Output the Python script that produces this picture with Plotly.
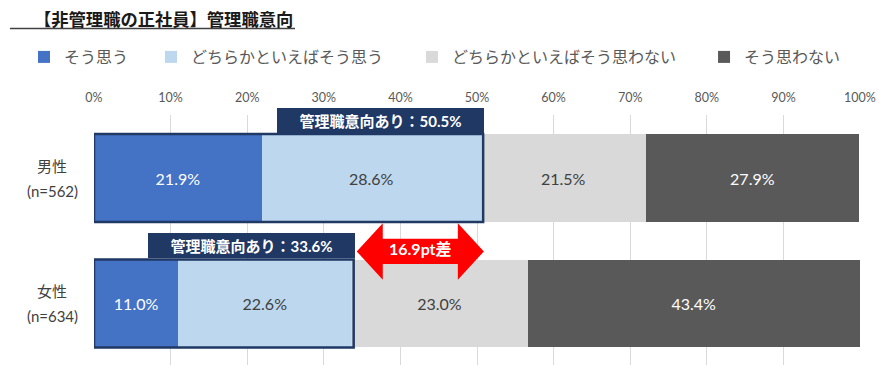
import plotly.graph_objects as go

# ---------------- data ----------------
categories = ["男性", "女性"]
sample_sizes = [562, 634]
series_names = ["そう思う", "どちらかといえばそう思う", "どちらかといえばそう思わない", "そう思わない"]
agree = [21.9, 11.0]
somewhat_agree = [28.6, 22.6]
somewhat_disagree = [21.5, 23.0]
disagree = [27.9, 43.4]
x_tick_values = [0, 10, 20, 30, 40, 50, 60, 70, 80, 90, 100]
x_tick_labels = [f"{v}%" for v in x_tick_values]
title_text = "【非管理職の正社員】管理職意向"
intent_label = "管理職意向あり："

# ---------------- styles ----------------
colors = ["#4472C4", "#BDD7EE", "#D9D9D9", "#595959"]
text_colors = ["#FFFFFF", "#404040", "#404040", "#FFFFFF"]
NAVY = "#1F3864"
RED = "#FF0000"
JP = "Noto Sans CJK JP"
NUM = "Lato, Noto Sans CJK JP"
BAR_W = 0.7

series = [agree, somewhat_agree, somewhat_disagree, disagree]
ypos = list(range(len(categories)))

fig = go.Figure()
legend_ids = ["legend", "legend2", "legend3", "legend4"]
for name, vals, c, tc, lg in zip(series_names, series, colors, text_colors, legend_ids):
    fig.add_trace(go.Bar(
        y=ypos, x=vals, name=name, orientation="h",
        marker=dict(color=c, line=dict(width=0)),
        width=BAR_W,
        text=[f"{v:.1f}%" for v in vals],
        textposition="inside", insidetextanchor="middle", textangle=0,
        textfont=dict(color=tc, size=16, family=NUM),
        legend=lg, hoverinfo="skip",
    ))

blue_sum = [round(a + b, 1) for a, b in zip(agree, somewhat_agree)]

shapes = []
annotations = []

# outlines of the "intent" portion + label boxes
for i, s in enumerate(blue_sum):
    shapes.append(dict(type="rect", xref="x", yref="y", x0=0, x1=s + 0.3,
                       y0=i - BAR_W / 2, y1=i + BAR_W / 2,
                       line=dict(color=NAVY, width=2.5), layer="above"))
    annotations.append(dict(
        xref="x", yref="y", x=s + 0.45, y=i - BAR_W / 2 - 0.01,
        xanchor="right", yanchor="bottom", showarrow=False,
        width=207, height=25, bgcolor=NAVY, borderpad=0, borderwidth=0,
        align="center", valign="middle",
        text=f"<b>{intent_label}<span style='font-family:Lato'>{s:.1f}%</span></b>",
        font=dict(color="white", size=15, family=JP),
    ))

# double red arrow showing the gap
diff = round(blue_sum[0] - blue_sum[1], 1)
x0 = blue_sum[1] + 0.7
x1 = blue_sum[0] + 0.4
yc = 0.585
hl, hh, sh = 3.4, 0.225, 0.1
path = (f"M{x0},{yc} L{x0+hl},{yc-hh} L{x0+hl},{yc-sh} L{x1-hl},{yc-sh} "
        f"L{x1-hl},{yc-hh} L{x1},{yc} L{x1-hl},{yc+hh} L{x1-hl},{yc+sh} "
        f"L{x0+hl},{yc+sh} L{x0+hl},{yc+hh} Z")
shapes.append(dict(type="path", xref="x", yref="y", path=path,
                   fillcolor=RED, line=dict(width=0), layer="above"))
annotations.append(dict(
    xref="x", yref="y", x=(x0 + x1) / 2, y=yc - 0.02, showarrow=False,
    text=f"<b>{diff:.1f}pt差</b>", font=dict(color="white", size=16, family=NUM),
))

# category labels (two lines, centered)
for i, (cat, n) in enumerate(zip(categories, sample_sizes)):
    annotations.append(dict(xref="paper", yref="y", x=-0.0548, y=i - 0.1,
                            xanchor="center", yanchor="middle", showarrow=False,
                            text=cat, font=dict(size=15, color="#404040", family=JP)))
    annotations.append(dict(xref="paper", yref="y", x=-0.0548, y=i + 0.1,
                            xanchor="center", yanchor="middle", showarrow=False,
                            text=f"(n={n})", font=dict(size=15, color="#404040", family=NUM)))

# title + underline
annotations.append(dict(xref="paper", yref="paper", x=-0.081, y=1.388,
                        xanchor="left", yanchor="middle", showarrow=False,
                        text=f"<b>{title_text}</b>",
                        font=dict(size=17.3, color="#1A1A1A", family=JP)))
shapes.append(dict(type="line", xref="paper", yref="paper",
                   x0=-0.1097, x1=0.2624, y0=1.346, y1=1.346,
                   line=dict(color="#404040", width=1.5)))

legend_common = dict(orientation="h", yanchor="middle", y=1.232, xanchor="left",
                     font=dict(size=16, color="#595959", family=JP),
                     bgcolor="rgba(0,0,0,0)", borderwidth=0)
legend_x = [-0.0914, 0.0744, 0.4151, 0.7964]

layout_legends = {}
for lg, lx in zip(legend_ids, legend_x):
    layout_legends[lg] = dict(legend_common, x=lx)

fig.update_layout(
    width=886, height=365,
    margin=dict(l=94, r=26, t=115, b=0, autoexpand=False),
    barmode="stack",
    plot_bgcolor="white", paper_bgcolor="white",
    showlegend=True,
    xaxis=dict(range=[0, 100], tickmode="array", tickvals=x_tick_values,
               ticktext=x_tick_labels,
               side="top", showgrid=True, gridcolor="#D9D9D9", gridwidth=1,
               zeroline=False, showline=False, ticks="",
               tickfont=dict(size=12.5, color="#595959", family=NUM),
               ticklabelstandoff=10, fixedrange=True, automargin=False),
    yaxis=dict(range=[1.49, -0.502], showticklabels=False, showgrid=False,
               zeroline=False, showline=False, fixedrange=True, automargin=False),
    shapes=shapes,
    annotations=annotations,
    **layout_legends,
)

fig.write_html("out.html",
               config={"displayModeBar": False},
               post_script="document.body.style.margin='0';document.body.style.overflow='hidden';")
